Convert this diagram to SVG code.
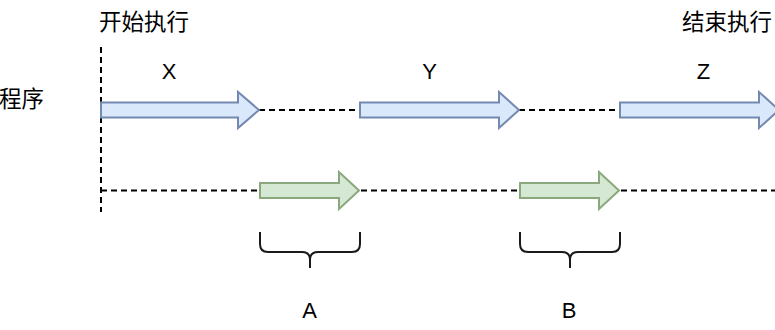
<svg xmlns="http://www.w3.org/2000/svg" width="775" height="330" viewBox="0 0 775 330">
<style>
.t{font-family:"Liberation Sans","Noto Sans CJK SC",sans-serif;fill:#000}
.cjk{font-family:"Noto Sans CJK SC",sans-serif;font-size:22.5px;fill:#000}
.lbl{font-size:22px;text-anchor:middle}
.blue{fill:#dae8fc;stroke:#7489b0;stroke-width:2}
.green{fill:#d5e8d4;stroke:#8aa87c;stroke-width:2}
.dash{stroke:#000;stroke-width:2;stroke-dasharray:6 4;fill:none}
.brace{stroke:#1a1a1a;stroke-width:2;fill:none}
</style>
<rect width="775" height="330" fill="#fff"/>
<g id="connectors">
<line class="dash" x1="101" y1="47" x2="101" y2="212"/>
<line class="dash" x1="259" y1="110" x2="360" y2="110"/>
<line class="dash" x1="519" y1="110" x2="620" y2="110"/>
<line class="dash" x1="101" y1="190.5" x2="775" y2="190.5"/>
</g>
<g id="label-start"><text class="cjk" x="99" y="30">开始执行</text></g>
<g id="label-end"><text class="cjk" x="682" y="30">结束执行</text></g>
<g id="label-program"><text class="cjk" x="-1" y="107">程序</text></g>
<g id="arrow-x">
<polygon class="blue" points="101,102.5 238,102.5 238,92 259,110 238,128 238,117.5 101,117.5"/>
<text class="t lbl" x="169" y="78.5">X</text>
</g>
<g id="arrow-y">
<polygon class="blue" points="360,102.5 499,102.5 499,92 519,110 499,128 499,117.5 360,117.5"/>
<text class="t lbl" x="429.5" y="78.5">Y</text>
</g>
<g id="arrow-z">
<polygon class="blue" points="620,102.5 759,102.5 759,92 779,110 759,128 759,117.5 620,117.5"/>
<text class="t lbl" x="703.5" y="79">Z</text>
</g>
<g id="arrow-a">
<polygon class="green" points="260,183 339,183 339,172 359,190.5 339,209 339,198 260,198"/>
</g>
<g id="arrow-b">
<polygon class="green" points="520,183 599,183 599,172 619,190.5 599,209 599,198 520,198"/>
</g>
<g id="brace-a">
<path class="brace" d="M260,232 L260,244 Q260,252 268,252 L302,252 Q310,252 310,260 L310,268 M310,260 Q310,252 318,252 L352,252 Q360,252 360,244 L360,232"/>
<text class="t lbl" x="309.5" y="318">A</text>
</g>
<g id="brace-b">
<path class="brace" d="M520,232 L520,244 Q520,252 528,252 L562,252 Q570,252 570,260 L570,268 M570,260 Q570,252 578,252 L612,252 Q620,252 620,244 L620,232"/>
<text class="t lbl" x="569" y="318">B</text>
</g>
</svg>
